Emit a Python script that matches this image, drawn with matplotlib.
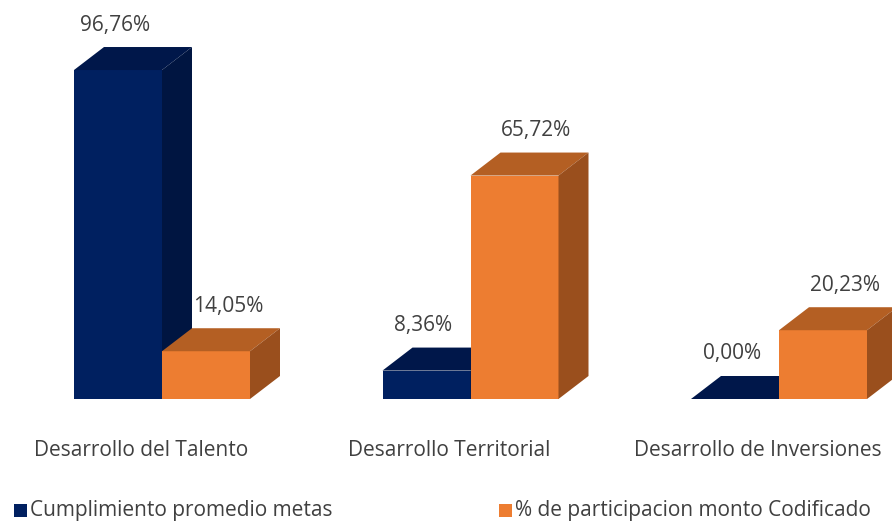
import numpy as np
import matplotlib
matplotlib.use("Agg")
import matplotlib.pyplot as plt
from matplotlib.patches import Polygon, Rectangle

categories = ["Desarrollo del Talento", "Desarrollo Territorial", "Desarrollo de Inversiones"]
series_names = ["Cumplimiento promedio metas", "% de participacion monto Codificado"]
cumplimiento = [96.76, 8.36, 0.00]
participacion = [14.05, 65.72, 20.23]

# front / top / side shades per series
faces = [("#002060", "#00174A", "#001541"),
         ("#ED7D31", "#B45F23", "#9A4F1D")]
txt = "#404040"
plt.rcParams["font.family"] = ["Open Sans", "DejaVu Sans"]

W, H = 892, 521
fig = plt.figure(figsize=(W / 100, H / 100), dpi=100)
ax = fig.add_axes([0, 0, 1, 1])
ax.set_axis_off()

# pixel scale of the drawing
px_x, px_y = 308.5, 3.4          # px per category step, px per percent
x_left, y_base = 162, 122        # px of first group centre, px of baseline (from bottom)
ax.set_xlim(-x_left / px_x, (W - x_left) / px_x)
ax.set_ylim(-y_base / px_y, (H - y_base) / px_y)

bw = 88 / px_x                   # bar width
dx, dy = 30 / px_x, 23 / px_y    # 3d depth offset
lbl_off = [-3 / px_x, 22 / px_x]


def bar3d(x0, v, cols):
    front, top, side = cols
    ax.add_patch(Polygon([(x0, 0), (x0 + bw, 0), (x0 + bw, v), (x0, v)], closed=True,
                         fc=front, ec="none", zorder=2))
    ax.add_patch(Polygon([(x0, v), (x0 + bw, v), (x0 + bw + dx, v + dy), (x0 + dx, v + dy)],
                         closed=True, fc=top, ec="none", zorder=2))
    ax.add_patch(Polygon([(x0 + bw, 0), (x0 + bw + dx, dy), (x0 + bw + dx, v + dy), (x0 + bw, v)],
                         closed=True, fc=side, ec="none", zorder=2))


for i, cat in enumerate(categories):
    for s, vals in enumerate([cumplimiento, participacion]):
        v = vals[i]
        x0 = i + (s - 1) * bw
        bar3d(x0, v, faces[s])
        ax.text(x0 + bw / 2 + lbl_off[s], v + dy + 22 / px_y, f"{v:.2f}%".replace(".", ","),
                ha="center", va="center", fontsize=15, color=txt, zorder=3)
    ax.text(i - 21 / px_x, -(456 - 399) / px_y, cat, ha="center", va="baseline",
            fontsize=15, color=txt)

# legend
leg_x = [14, 499]
for s, name in enumerate(series_names):
    fig.patches.append(Rectangle((leg_x[s] / W, 4 / H), 13 / W, 13 / H, transform=fig.transFigure,
                                 fc=faces[s][0], ec="none"))
    fig.text((leg_x[s] + 16) / W, 5 / H, name, ha="left", va="baseline", fontsize=15, color=txt)

fig.savefig("out.png", dpi=100)
